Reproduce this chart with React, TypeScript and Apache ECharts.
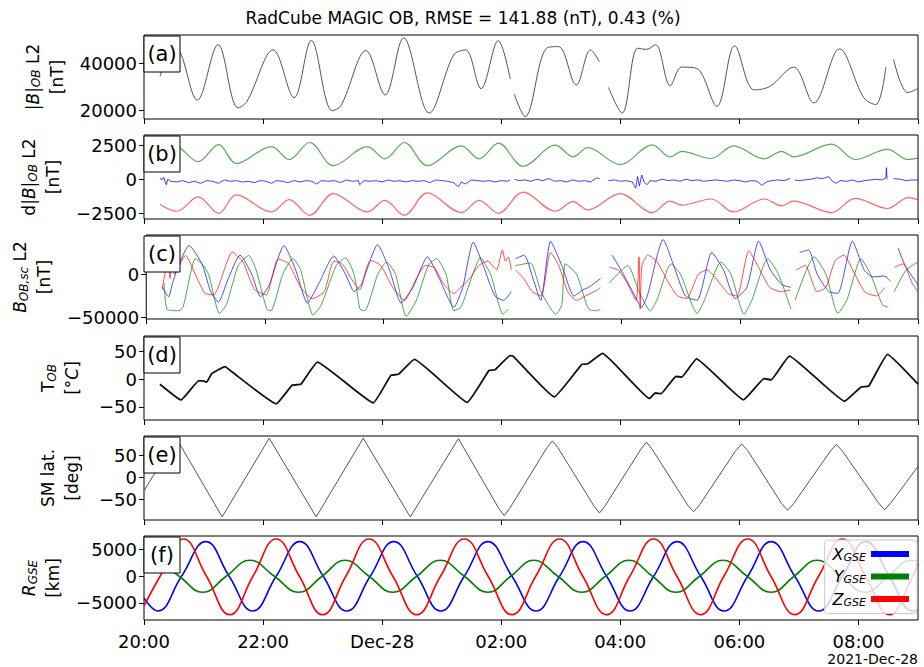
import React, { useEffect, useRef } from "react";
import * as echarts from "echarts";

// x values are hours after 2021-12-27 20:00
const xTickLabels = ["20:00", "22:00", "Dec-28", "02:00", "04:00", "06:00", "08:00"];
const xMaxHours = 13.0;

// (a) |B|_OB L2 [nT]
const bTotal: any[] = [[0.27,34500],[0.40,44000],[0.50,46500],[0.606,45000],[0.898,24500],[1.244,48000],[1.58,21200],[1.73,24000],[2.17,45800],[2.52,25500],[2.81,49800],[3.16,20000],[3.31,22200],[3.73,45500],[4.05,26700],[4.36,50900],[4.79,19000],[5.20,43600],[5.40,45800],[5.66,29400],[5.95,49700],[6.15,33500],[6.18,null],[6.22,27000],[6.40,17500],[6.76,46500],[6.96,47200],[7.26,30900],[7.50,45800],[7.65,40700],[7.72,null],[7.80,29900],[8.03,19000],[8.29,46500],[8.44,46000],[8.59,48000],[8.84,30600],[9.03,38500],[9.28,38000],[9.62,21900],[9.92,47500],[10.25,28800],[10.51,30300],[10.91,38500],[11.25,23300],[11.68,46200],[12.09,25500],[12.29,22600],[12.46,38500],[12.52,null],[12.59,41700],[12.83,27700],[13.0,29400]];

// (b) d|B|_OB L2 [nT]
const dbX: any[] = [[0.267,100],[0.30,-50],[0.33,150],[0.375,-400],[0.40,0],[0.444,-150],[0.55,-200],[0.65,-100],[0.75,-250],[0.85,-150],[0.95,-300],[1.05,-100],[1.15,-150],[1.25,-300],[1.35,-50],[1.45,-150],[1.55,-100],[1.65,-200],[1.75,-150],[1.85,-250],[1.95,-100],[2.05,-150],[2.142,-300],[2.22,-100],[2.32,-150],[2.42,-250],[2.52,-100],[2.62,-200],[2.72,-100],[2.82,-150],[2.90,-350],[2.98,-100],[3.10,-150],[3.20,-100],[3.30,-250],[3.40,-50],[3.50,-150],[3.60,-100],[3.623,-400],[3.70,-100],[3.80,-150],[3.90,-100],[4.00,-200],[4.10,-50],[4.20,-150],[4.30,-100],[4.40,-200],[4.50,-100],[4.60,-150],[4.70,-100],[4.80,-250],[4.90,-50],[5.00,-100],[5.10,-150],[5.20,-250],[5.28,-550],[5.33,-200],[5.40,-350],[5.50,-50],[5.60,-100],[5.70,-150],[5.80,-100],[5.90,-200],[6.00,-100],[6.10,-150],[6.15,-50],[6.18,null],[6.22,0],[6.30,-100],[6.40,-50],[6.50,-150],[6.60,0],[6.70,-100],[6.80,50],[6.90,-150],[7.00,-100],[7.10,-200],[7.20,-50],[7.30,-150],[7.40,-100],[7.50,-200],[7.60,100],[7.65,50],[7.72,null],[7.80,-100],[7.90,-50],[8.00,-150],[8.10,-100],[8.20,-200],[8.26,-650],[8.29,200],[8.32,-500],[8.36,300],[8.40,-200],[8.45,-400],[8.50,-100],[8.60,-150],[8.70,0],[8.80,-100],[8.90,-50],[9.00,-150],[9.10,0],[9.20,-100],[9.30,-50],[9.40,-150],[9.50,-100],[9.60,-50],[9.70,-100],[9.80,-150],[9.90,-50],[10.00,-100],[10.10,-200],[10.20,-100],[10.30,-150],[10.38,-450],[10.45,-200],[10.55,-100],[10.65,-50],[10.75,-100],[10.85,50],[10.88,null],[10.93,-50],[11.00,-100],[11.10,-50],[11.20,0],[11.30,100],[11.40,50],[11.50,200],[11.55,-100],[11.62,-300],[11.70,-100],[11.80,-150],[11.90,-50],[12.00,-200],[12.10,-100],[12.20,-50],[12.30,0],[12.40,-50],[12.46,100],[12.47,850],[12.48,0],[12.50,null],[12.59,50],[12.70,0],[12.80,-100],[12.90,-50],[13.00,-50]];
const dbY: any[] = [[0.27,2300],[0.45,2600],[0.606,2300],[0.91,1300],[1.254,2550],[1.55,1150],[2.142,2400],[2.438,1450],[2.784,2700],[3.179,1000],[3.751,2400],[4.047,1500],[4.373,2700],[4.758,1000],[5.331,2450],[5.627,1500],[5.953,2650],[6.367,950],[6.91,2500],[7.206,1650],[7.453,2325],[7.996,1075],[8.539,2525],[8.835,1650],[9.033,2050],[9.526,1525],[9.901,2450],[10.415,1500],[10.711,2050],[10.91,1650],[11.55,2575],[11.945,1450],[12.488,2200],[12.833,1450],[13.0,1550]];
const dbZ: any[] = [[0.27,-1850],[0.55,-2350],[0.91,-1300],[1.254,-2500],[1.55,-1150],[2.142,-2400],[2.438,-1500],[2.784,-2650],[3.179,-1050],[3.751,-2400],[4.047,-1550],[4.373,-2650],[4.758,-1000],[5.331,-2450],[5.627,-1550],[5.953,-2500],[6.367,-950],[6.91,-2350],[7.206,-1650],[7.453,-2250],[7.996,-1050],[8.539,-2450],[8.835,-1600],[9.033,-1900],[9.526,-1450],[9.901,-2400],[10.415,-1450],[10.711,-1950],[10.91,-1600],[11.55,-2450],[11.945,-1400],[12.488,-2150],[12.833,-1350],[13.0,-1500]];

// (c) B_OB,sc L2 [nT]
const bScX: any[] = [[0.267,-14000],[0.375,-26000],[0.444,-10000],[0.543,10000],[0.721,33000],[0.938,12000],[1.086,-20000],[1.214,-32000],[1.382,-5000],[1.579,22000],[1.777,0],[1.925,-26000],[2.073,-12000],[2.320,33000],[2.517,5000],[2.715,-33000],[2.912,-10000],[3.159,21000],[3.356,0],[3.504,-20000],[3.623,-12000],[3.899,34000],[4.097,5000],[4.294,-33000],[4.492,-15000],[4.738,20000],[4.936,-5000],[5.183,-38000],[5.331,-15000],[5.508,37000],[5.676,10000],[5.874,-25000],[6.022,-30000],[6.150,-20000],[6.18,null],[6.219,18000],[6.367,22000],[6.515,-5000],[6.644,-30000],[6.811,38000],[7.0,10000],[7.206,-25000],[7.354,-18000],[7.453,-15000],[7.651,-5000],[7.70,null],[7.848,22000],[7.996,5000],[8.194,-20000],[8.342,-38000],[8.440,-25000],[8.707,40000],[8.885,10000],[9.082,-25000],[9.279,-30000],[9.526,25000],[9.724,5000],[9.921,-28000],[10.118,-15000],[10.316,38000],[10.513,5000],[10.711,-12000],[10.859,-15000],[10.88,null],[11.007,25000],[11.155,28000],[11.303,0],[11.500,-20000],[11.649,-22000],[11.895,38000],[12.093,5000],[12.241,-3000],[12.438,-2000],[12.537,-8000],[12.56,null],[12.665,30000],[12.784,10000],[13.0,-12000]];
const bScY: any[] = [[0.30,-10000],[0.35,-40000],[0.55,-42000],[0.62,-38000],[0.83,18000],[0.94,12000],[1.05,0],[1.234,-45000],[1.35,-35000],[1.55,10000],[1.728,21600],[1.85,5000],[2.03,-40000],[2.10,-42000],[2.30,0],[2.47,18000],[2.60,5000],[2.81,-47000],[2.95,-35000],[3.20,10000],[3.356,19000],[3.50,0],[3.60,-40000],[3.68,-42000],[3.90,0],[4.047,14000],[4.20,0],[4.38,-48500],[4.55,-30000],[4.75,10000],[4.89,18000],[5.05,0],[5.18,-42000],[5.30,-38000],[5.50,0],[5.627,19000],[5.80,0],[6.01,-46000],[6.10,-40000],[6.18,null],[6.22,10000],[6.47,13000],[6.65,-20000],[6.90,-46000],[7.00,-35000],[7.06,12000],[7.25,0],[7.45,-40000],[7.60,-42000],[7.65,-40000],[7.70,null],[7.80,-10000],[8.11,10000],[8.30,-20000],[8.49,-42000],[8.60,-30000],[8.84,12000],[9.00,0],[9.28,-45000],[9.40,-30000],[9.68,14000],[9.85,0],[10.07,-46000],[10.20,-30000],[10.47,18000],[10.65,0],[10.86,-40000],[10.88,null],[10.93,-30000],[11.25,20000],[11.45,0],[11.65,-45000],[11.80,-30000],[12.04,18000],[12.20,0],[12.40,-35000],[12.50,-38000],[12.56,null],[12.60,-20000],[12.80,5000],[13.0,14000]];
const bScZ: any[] = [[0.267,-17700],[0.375,19700],[0.40,-5000],[0.44,30000],[0.48,0],[0.661,21700],[0.839,-2000],[0.987,-21700],[1.135,-23600],[1.451,25600],[1.63,13800],[1.826,-17700],[2.02,-23600],[2.221,17700],[2.40,12000],[2.60,-15000],[2.80,-28000],[3.00,-20000],[3.159,15000],[3.30,12000],[3.50,-10000],[3.60,-18000],[3.70,5000],[3.78,16000],[3.95,10000],[4.15,-15000],[4.35,-30000],[4.55,-5000],[4.70,10000],[4.85,8000],[5.00,-10000],[5.18,-22000],[5.30,-15000],[5.45,-5000],[5.60,10000],[5.75,15000],[5.90,5000],[6.00,28000],[6.05,15000],[6.10,20000],[6.15,5000],[6.18,null],[6.22,5000],[6.36,-5000],[6.50,-20000],[6.65,-25000],[6.811,25000],[6.95,10000],[7.10,-20000],[7.25,-30000],[7.40,-25000],[7.60,-18000],[7.65,-15000],[7.70,null],[7.80,8000],[7.95,5000],[8.10,-10000],[8.25,-30000],[8.30,20000],[8.32,-40000],[8.35,10000],[8.45,22000],[8.60,15000],[8.80,-10000],[8.95,-25000],[9.10,-28000],[9.30,0],[9.45,5000],[9.60,-5000],[9.80,-22000],[9.95,-25000],[10.15,27000],[10.30,10000],[10.50,-15000],[10.70,-20000],[10.85,-18000],[10.88,null],[10.95,5000],[11.10,10000],[11.30,-20000],[11.45,-15000],[11.60,15000],[11.75,22000],[11.90,5000],[12.10,-20000],[12.30,-25000],[12.45,-15000],[12.56,null],[12.60,8000],[12.75,12000],[12.90,-10000],[13.0,-20000]];

// (d) T_OB [deg C]
const tempOB: any[] = [[0.267,-9],[0.622,-37.5],[0.918,-3],[0.99,-3],[1.056,-5],[1.135,10],[1.362,23],[1.481,13],[2.221,-44.6],[2.488,-11],[2.636,-9],[2.912,31],[3.850,-43],[4.146,7],[4.274,9],[4.541,36],[5.429,-42],[5.795,16],[5.893,17],[6.150,43],[6.199,42],[6.890,-32],[7.354,27],[7.453,28],[7.700,47],[8.490,-35],[8.588,-25],[8.687,-26],[8.934,5],[9.033,4],[9.279,37],[10.069,-37.5],[10.415,1],[10.533,-1],[10.839,42],[11.767,-40],[12.044,-14],[12.172,-12.5],[12.488,45],[13.0,-9]];

// (e) SM lat. [deg]
const smLat: any[] = [[0,-30],[0.543,89],[1.313,-89],[2.103,89],[2.892,-89],[3.682,89],[4.472,-89],[5.281,88],[5.96,-70],[6.051,-86],[6.14,-70],[6.77,68],[6.861,83],[6.95,68],[7.56,-65],[7.651,-80],[7.74,-65],[8.35,65],[8.440,80],[8.53,65],[9.13,-62],[9.230,-77],[9.33,-62],[9.94,61],[10.039,76],[10.14,61],[10.71,-59],[10.810,-74],[10.91,-59],[11.53,60],[11.629,75],[11.73,60],[12.34,-58],[12.438,-73],[12.54,-58],[13.0,25]];

// (f) R_GSE [km]
const rX: any[] = [[0,-4100],[0.227,-6500],[0.63,0],[1.037,6500],[1.43,0],[1.826,-6500],[2.22,0],[2.616,6500],[3.01,0],[3.406,-6500],[3.80,0],[4.195,6500],[4.59,0],[4.985,-6500],[5.38,0],[5.775,6500],[6.18,0],[6.584,-6500],[6.98,0],[7.374,6500],[7.77,0],[8.164,-6500],[8.56,0],[8.954,6500],[9.35,0],[9.743,-6500],[10.14,0],[10.533,6500],[10.93,0],[11.333,-6500],[11.73,0],[12.122,6500],[12.52,0],[12.912,-6500],[13.0,-6300]];
const rY: any[] = [[0,2700],[0.19,3000],[0.59,0],[0.987,-3000],[1.38,0],[1.777,3000],[2.19,0],[2.596,-3000],[2.99,0],[3.376,3000],[3.78,0],[4.176,-3000],[4.58,0],[4.975,3000],[5.38,0],[5.775,-3000],[6.16,0],[6.545,3000],[6.95,0],[7.354,-3000],[7.75,0],[8.144,3000],[8.54,0],[8.934,-3000],[9.33,0],[9.724,3000],[10.13,0],[10.533,-3000],[10.92,0],[11.303,3000],[11.71,0],[12.112,-3000],[12.50,0],[12.883,3000],[13.0,2900]];
const rZ: any[] = [[0,-5600],[0.27,0],[0.66,7000],[1.05,0],[1.44,-7200],[1.83,0],[2.22,7000],[2.61,0],[3.00,-7200],[3.39,0],[3.78,7000],[4.18,0],[4.58,-7200],[4.98,0],[5.38,7000],[5.78,0],[6.18,-7200],[6.58,0],[6.98,7000],[7.37,0],[7.77,-7200],[8.16,0],[8.56,7000],[8.95,0],[9.35,-7200],[9.74,0],[10.14,7000],[10.53,0],[10.93,-7200],[11.33,0],[11.73,7000],[12.12,0],[12.52,-7200],[12.91,0],[13.0,2400]];

const yTicks = [[20000, 40000], [-2500, 0, 2500], [-50000, 0], [-50, 0, 50], [-50, 0, 50], [-5000, 0, 5000]];
const yRanges = [[16500, 52100], [-2920, 3250], [-51500, 45200], [-74, 78.5], [-96, 94], [-8200, 7550]];
const panelTags = ["(a)", "(b)", "(c)", "(d)", "(e)", "(f)"];
const yNames = [
  "{n||}{i|B}{n||}{s|OB}{n| L2}\n{n|[nT]}",
  "{n|d|}{i|B}{n||}{s|OB}{n| L2}\n{n|[nT]}",
  "{i|B}{s|OB,sc}{n| L2}\n{n|[nT]}",
  "{n|T}{s|OB}\n{n|[°}{i|C}{n|]}",
  "{n|SM lat.}\n{n|[deg]}",
  "{i|R}{s|GSE}\n{n|[km]}",
];
const legendNames = ["X", "Y", "Z"];
const titleText = "RadCube MAGIC OB, RMSE = 141.88 (nT), 0.43 (%)";
const offsetText = "2021-Dec-28";

const FONT = "DejaVu Sans";
const tops = [35, 135, 235, 336, 436, 536];
const H = 84;
const LEFT = 144;
const RIGHT = 6;
const nameGaps = [72, 75, 82, 60, 60, 76];

const minus = (v: number) => (v < 0 ? "\u2212" + Math.abs(v) : String(v));

export default function App() {
  const ref = useRef<HTMLDivElement>(null);
  useEffect(() => {
    const chart = echarts.init(ref.current!, null, { renderer: "svg" });
    const rich = {
      n: { fontFamily: FONT, fontSize: 17, color: "#000" },
      i: { fontFamily: FONT, fontSize: 17, fontStyle: "italic", color: "#000" },
      s: { fontFamily: FONT, fontSize: 12, fontStyle: "italic", color: "#000", padding: [7, 0, 0, 0] },
    };
    const grids = tops.map((t) => ({
      left: LEFT, right: RIGHT, top: t, height: H,
      show: true, borderColor: "#000", borderWidth: 1, backgroundColor: "transparent",
    }));
    const xAxes = tops.map((_, i) => ({
      type: "value", gridIndex: i, min: 0, max: xMaxHours, interval: 2,
      axisLine: { show: false, onZero: false },
      axisTick: { show: true, length: 5, lineStyle: { color: "#000" } },
      splitLine: { show: false },
      axisLabel: {
        show: i === 5, margin: 12, fontFamily: FONT, fontSize: 18, color: "#000",
        showMaxLabel: false,
        formatter: (v: number) => {
          const k = v / 2;
          return Number.isInteger(k) && k < xTickLabels.length ? xTickLabels[k] : "";
        },
      },
    }));
    const yAxes = tops.map((_, i) => ({
      type: "value", gridIndex: i, min: yRanges[i][0], max: yRanges[i][1],
      axisLine: { show: false },
      axisTick: { show: true, length: 5, lineStyle: { color: "#000" }, customValues: yTicks[i] },
      axisLabel: { fontFamily: FONT, fontSize: 18, color: "#000", margin: 7, customValues: yTicks[i], formatter: minus },
      splitLine: { show: false },
      name: yNames[i], nameLocation: "middle", nameRotate: 90, nameGap: nameGaps[i],
      nameTextStyle: { rich, lineHeight: 24, align: "center" },
    }));
    const line = (data: any[], xi: number, color: string, width: number, smooth: any, name?: string, opacity = 1) => ({
      type: "line", name, data, xAxisIndex: xi, yAxisIndex: xi, showSymbol: false, symbol: "none",
      smooth, connectNulls: false,
      lineStyle: { color, width, opacity }, itemStyle: { color },
    });
    const series = [
      line(bTotal, 0, "#555", 1, 0.35),
      line(dbY, 1, "green", 1.2, 0.35, undefined, 0.65),
      line(dbX, 1, "blue", 1.0, false, undefined, 0.75),
      line(dbZ, 1, "red", 1.2, 0.35, undefined, 0.6),
      line(bScX, 2, "blue", 1.0, 0.2, undefined, 0.7),
      line(bScY, 2, "green", 1.0, 0.2, undefined, 0.7),
      line(bScZ, 2, "red", 1.0, 0.2, undefined, 0.7),
      line(tempOB, 3, "#111", 1.8, 0.1),
      line(smLat, 4, "#555", 1, false),
      line(rX, 5, "blue", 1.6, 0.45, legendNames[0]),
      line(rY, 5, "green", 1.6, 0.45, legendNames[1]),
      line(rZ, 5, "red", 1.6, 0.45, legendNames[2]),
    ];
    const graphics: any[] = [];
    tops.forEach((t, i) => {
      graphics.push({ type: "rect", z: 100, shape: { x: LEFT, y: t + 1, width: 36, height: 36 }, style: { fill: "#fff", stroke: "#000", lineWidth: 1 } });
      graphics.push({ type: "text", z: 101, x: LEFT + 18, y: t + 19, style: { text: panelTags[i], font: `21px "${FONT}"`, fill: "#000", align: "center", verticalAlign: "middle" } });
    });
    graphics.push({ type: "text", z: 101, x: 463, y: 18, style: { text: titleText, font: `17px "${FONT}"`, fill: "#000", align: "center", verticalAlign: "middle" } });
    graphics.push({ type: "text", z: 101, x: 918, y: 659, style: { text: offsetText, font: `14px "${FONT}"`, fill: "#000", align: "right", verticalAlign: "middle" } });

    chart.setOption({
      animation: false,
      grid: grids, xAxis: xAxes, yAxis: yAxes, series, graphic: graphics,
      legend: {
        data: legendNames, orient: "vertical", right: 7, top: 540, align: "right",
        icon: "rect", itemWidth: 38, itemHeight: 6, itemGap: 6,
        backgroundColor: "rgba(255,255,255,0.8)", borderColor: "#ccc", borderWidth: 1, borderRadius: 3,
        padding: [6, 8, 6, 8],
        formatter: (n: string) => `{i|${n}}{s|GSE}`,
        textStyle: { rich: { i: { fontFamily: FONT, fontSize: 16, fontStyle: "italic", color: "#000" }, s: { fontFamily: FONT, fontSize: 11, fontStyle: "italic", color: "#000", padding: [6, 0, 0, 0] } } },
      },
    });
    return () => chart.dispose();
  }, []);
  return <div ref={ref} style={{ position: "absolute", left: 0, top: 0, width: 924, height: 667 }} />;
}
